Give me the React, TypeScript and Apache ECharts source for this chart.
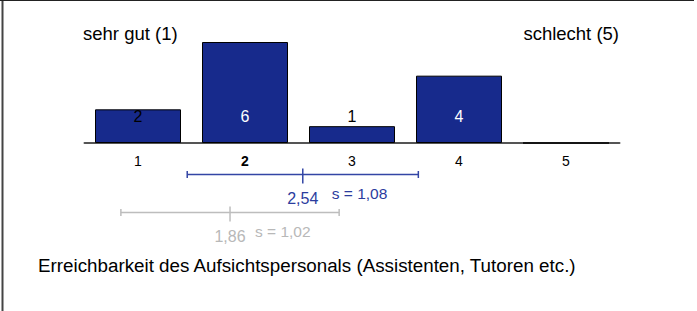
import React, { useEffect, useRef } from 'react';
import * as echarts from 'echarts';

const categories = ['1', '2', '3', '4', '5'];
const counts = [2, 6, 1, 4, 0];
const labelColors = ['#000000', '#ffffff', '#000000', '#ffffff', '#000000'];
const boldCategory = '2';
const leftEndLabel = 'sehr gut (1)';
const rightEndLabel = 'schlecht (5)';
const title = 'Erreichbarkeit des Aufsichtspersonals (Assistenten, Tutoren etc.)';
const statRows = ['aktuell', 'vergleich'];
const means = [2.54, 1.86];
const sds = [1.08, 1.02];
const statLineColors = ['#3345a5', '#bdbdbd'];
const statTextColors = ['#2b3c9e', '#b8b8b8'];
const sLabelGaps = [29, 25];

const FONT = "'Liberation Sans', Arial, sans-serif";
const fmt = (v: number) => v.toFixed(2).replace('.', ',');

export default function App() {
  const ref = useRef<HTMLDivElement>(null);
  useEffect(() => {
    if (!ref.current) return;
    const chart = echarts.init(ref.current, null, { renderer: 'svg' });
    const option: any = {
      animation: false,
      backgroundColor: '#ffffff',
      textStyle: { fontFamily: FONT },
      grid: [
        { left: 84.5, width: 535, top: 42, height: 101 },
        { left: 84.5, width: 535, top: 155, height: 76 },
      ],
      xAxis: [
        {
          gridIndex: 0,
          type: 'category',
          data: categories.map((c) => ({
            value: c,
            textStyle: { color: '#000000', fontWeight: c === boldCategory ? 'bold' : 'normal' },
          })),
          axisLine: { lineStyle: { color: '#555555', width: 2 } },
          axisTick: { inside: true, length: 5, alignWithLabel: true, lineStyle: { color: '#222222' } },
          axisLabel: { color: '#000000', fontSize: 14, margin: 11, fontFamily: FONT },
          splitLine: { show: false },
        },
        { gridIndex: 1, type: 'value', min: 0.5, max: 5.5, show: false },
      ],
      yAxis: [
        { gridIndex: 0, type: 'value', min: 0, max: 6, show: false },
        { gridIndex: 1, type: 'category', data: statRows, inverse: true, show: false },
      ],
      series: [
        {
          type: 'bar',
          xAxisIndex: 0,
          yAxisIndex: 0,
          barWidth: 86,
          data: counts.map((v, i) => ({ value: v, label: { color: labelColors[i] } })),
          itemStyle: { color: '#172a8c', borderColor: '#000000', borderWidth: 1 },
          label: {
            show: true,
            position: 'insideBottom',
            distance: 19,
            fontSize: 16,
            fontFamily: FONT,
            formatter: (p: any) => (p.value ? String(p.value) : ''),
          },
        },
        {
          type: 'custom',
          xAxisIndex: 1,
          yAxisIndex: 1,
          clip: false,
          data: means.map((m, i) => [m, i, sds[i]]),
          renderItem: (params: any, api: any) => {
            const i = params.dataIndex;
            const m = api.value(0);
            const row = api.value(1);
            const s = api.value(2);
            const c = api.coord([m, row]);
            const l = api.coord([m - s, row]);
            const r = api.coord([m + s, row]);
            const y = Math.round(c[1]) + 0.5;
            const ls = { stroke: statLineColors[i], lineWidth: 1.5 };
            return {
              type: 'group',
              children: [
                { type: 'line', shape: { x1: l[0], y1: y, x2: r[0], y2: y }, style: ls },
                { type: 'line', shape: { x1: l[0], y1: y - 3.5, x2: l[0], y2: y + 3.5 }, style: ls },
                { type: 'line', shape: { x1: r[0], y1: y - 3.5, x2: r[0], y2: y + 3.5 }, style: ls },
                { type: 'line', shape: { x1: c[0], y1: y - 6, x2: c[0], y2: y + 9 }, style: ls },
                {
                  type: 'text',
                  x: c[0],
                  y: y + 24,
                  style: {
                    text: fmt(m),
                    fill: statTextColors[i],
                    fontSize: 16,
                    fontFamily: FONT,
                    align: 'center',
                    verticalAlign: 'middle',
                  },
                },
                {
                  type: 'text',
                  x: c[0] + sLabelGaps[i],
                  y: y + 18.5,
                  style: {
                    text: 's = ' + fmt(s),
                    fill: statTextColors[i],
                    fontSize: 15.5,
                    fontFamily: FONT,
                    align: 'left',
                    verticalAlign: 'middle',
                  },
                },
              ],
            };
          },
        },
      ],
      graphic: [
        { type: 'line', shape: { x1: 2.5, y1: 0, x2: 2.5, y2: 311 }, style: { stroke: '#444444', lineWidth: 2 } },
        { type: 'line', shape: { x1: 0, y1: 0.5, x2: 694, y2: 0.5 }, style: { stroke: '#222222', lineWidth: 1 } },
        {
          type: 'text',
          x: 83,
          y: 33,
          style: { text: leftEndLabel, fill: '#000', fontSize: 18.5, fontFamily: FONT, align: 'left', verticalAlign: 'middle' },
        },
        {
          type: 'text',
          x: 619,
          y: 33,
          style: { text: rightEndLabel, fill: '#000', fontSize: 18.5, fontFamily: FONT, align: 'right', verticalAlign: 'middle' },
        },
        {
          type: 'text',
          x: 38,
          y: 265,
          style: { text: title, fill: '#000', fontSize: 18.8, fontFamily: FONT, align: 'left', verticalAlign: 'middle' },
        },
      ],
    };
    chart.setOption(option);
    return () => chart.dispose();
  }, []);
  return (
    <div
      ref={ref}
      style={{ position: 'fixed', left: 0, top: 0, width: 697, height: 311, background: '#fff' }}
    />
  );
}
